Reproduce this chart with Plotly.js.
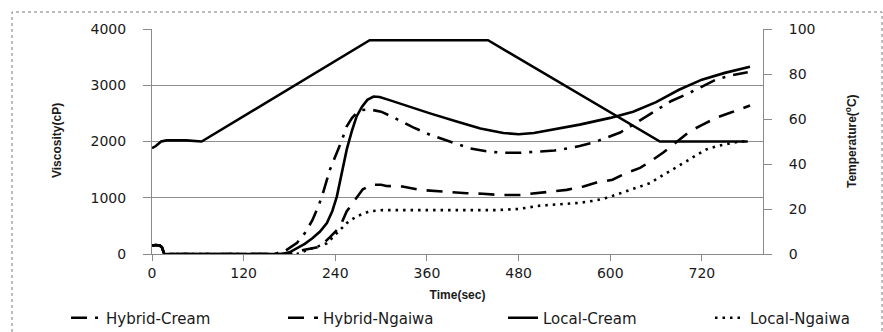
<!DOCTYPE html>
<html>
<head>
<meta charset="utf-8">
<script src="https://cdn.plot.ly/plotly-3.0.1.min.js"></script>
<style>html,body{margin:0;padding:0;background:#fff;}#chart{width:883px;height:332px;}</style>
</head>
<body>
<div id="chart"></div>
<script>
// ---- data ----
const seriesNames = ["Hybrid-Cream", "Hybrid-Ngaiwa", "Local-Cream", "Local-Ngaiwa"];

const hybridCreamTime = [0, 5, 10, 13, 16, 60, 120, 160, 175, 190, 200, 210, 216, 222, 233, 242, 248, 255, 262, 268, 275, 285, 300, 316, 342, 364, 390, 416, 440, 460, 482, 505, 527, 545, 560, 580, 596, 613, 630, 648, 665, 680, 700, 720, 740, 760, 780];
const hybridCreamVisc = [150, 160, 150, 120, 0, 0, 0, 0, 60, 200, 370, 600, 790, 1000, 1500, 1800, 2000, 2270, 2420, 2510, 2560, 2570, 2530, 2430, 2250, 2120, 2000, 1880, 1820, 1800, 1800, 1820, 1840, 1880, 1920, 1990, 2070, 2160, 2300, 2450, 2600, 2720, 2840, 2980, 3110, 3180, 3230];

const hybridNgaiwaTime = [0, 5, 10, 13, 16, 60, 120, 180, 198, 210, 220, 233, 246, 255, 264, 268, 276, 288, 300, 307, 328, 351, 379, 412, 433, 455, 482, 510, 543, 565, 582, 603, 621, 639, 652, 669, 685, 704, 721, 740, 757, 783];
const hybridNgaiwaVisc = [150, 160, 150, 120, 0, 0, 0, 0, 70, 100, 130, 300, 480, 760, 930, 1000, 1150, 1230, 1230, 1210, 1200, 1140, 1110, 1080, 1070, 1050, 1050, 1090, 1140, 1200, 1270, 1320, 1440, 1530, 1640, 1800, 1980, 2180, 2300, 2430, 2510, 2640];

const localCreamTime = [0, 5, 10, 13, 16, 60, 120, 170, 180, 190, 200, 210, 220, 229, 236, 242, 248, 255, 262, 268, 275, 282, 290, 298, 310, 330, 364, 400, 430, 460, 480, 500, 520, 560, 600, 630, 660, 690, 720, 750, 783];
const localCreamVisc = [150, 160, 150, 120, 0, 0, 0, 0, 30, 100, 180, 280, 400, 550, 760, 1020, 1400, 1860, 2200, 2450, 2620, 2740, 2800, 2790, 2740, 2650, 2500, 2350, 2230, 2150, 2130, 2150, 2200, 2300, 2420, 2530, 2700, 2920, 3100, 3220, 3330];

const localNgaiwaTime = [0, 5, 10, 13, 16, 60, 120, 190, 203, 215, 229, 242, 255, 268, 285, 302, 330, 364, 400, 451, 480, 508, 540, 560, 580, 596, 611, 626, 640, 652, 665, 678, 690, 700, 713, 726, 740, 755, 770, 780];
const localNgaiwaVisc = [150, 160, 150, 120, 0, 0, 0, 0, 70, 120, 190, 370, 550, 670, 760, 780, 780, 770, 770, 780, 800, 860, 890, 910, 950, 1000, 1070, 1140, 1200, 1260, 1370, 1470, 1570, 1650, 1760, 1860, 1920, 1960, 2000, 2000];

const temperatureTime = [0, 5, 12, 19, 45, 65, 285, 440, 665, 780];
const temperatureC = [47, 48, 50, 50.5, 50.5, 50, 95, 95, 50, 50];

const xTickVals = [0, 120, 240, 360, 480, 600, 720];
const yLeftTickVals = [0, 1000, 2000, 3000, 4000];
const yRightTickVals = [0, 20, 40, 60, 80, 100];

const xTitle = "Time(sec)";
const yLeftTitle = "Viscosity(cP)";
const yRightTitle = "Temperature(<sup>o</sup>C)";

// ---- chart ----
const W = 883, H = 332;
const ink = "#1a1a1a";
const tickFont = {family: "DejaVu Sans", size: 14, color: ink};
const titleFont = {family: "Liberation Sans", size: 12, color: ink, weight: "bold"};
const legendFont = {family: "DejaVu Sans", size: 15, color: ink};
const legendLeftPx = [66, 283, 503, 710];
const legendIds = ["legend", "legend2", "legend3", "legend4"];

const traces = [
  {x: hybridCreamTime, y: hybridCreamVisc, name: seriesNames[0], mode: "lines", legend: legendIds[0],
   line: {color: "#000", width: 2.6, dash: "16px,8px,3px,8px"}},
  {x: hybridNgaiwaTime, y: hybridNgaiwaVisc, name: seriesNames[1], mode: "lines", legend: legendIds[1],
   line: {color: "#000", width: 2.6, dash: "16px,10px"}},
  {x: localCreamTime, y: localCreamVisc, name: seriesNames[2], mode: "lines", legend: legendIds[2],
   line: {color: "#000", width: 2.6}},
  {x: localNgaiwaTime, y: localNgaiwaVisc, name: seriesNames[3], mode: "lines", legend: legendIds[3],
   line: {color: "#000", width: 2.6, dash: "2.5px,5px"}},
  {x: temperatureTime, y: temperatureC, name: "Temperature", mode: "lines", yaxis: "y2",
   showlegend: false, line: {color: "#000", width: 2.6}}
];

const layout = {
  width: W, height: H,
  margin: {l: 152, r: 120, t: 29, b: 78, pad: 0},
  paper_bgcolor: "#fff", plot_bgcolor: "#fff",
  showlegend: true,
  xaxis: {
    range: [0, 800], tickvals: xTickVals, ticktext: xTickVals.map(String),
    showgrid: false, zeroline: false,
    showline: true, linecolor: "#8a8a8a", linewidth: 1,
    ticks: "outside", ticklen: 6, tickcolor: "#8a8a8a",
    tickfont: tickFont, ticklabelstandoff: 0,
    title: {text: xTitle, font: titleFont},
    automargin: false, fixedrange: true
  },
  yaxis: {
    range: [0, 4000], tickvals: yLeftTickVals, ticktext: yLeftTickVals.map(String),
    showgrid: true, gridcolor: "#8f8f8f", gridwidth: 1,
    zeroline: false, showline: true, linecolor: "#8a8a8a", linewidth: 1,
    ticks: "outside", ticklen: 8, tickcolor: "#8a8a8a",
    tickfont: tickFont, ticklabelstandoff: 14,
    automargin: false, fixedrange: true
  },
  yaxis2: {
    range: [0, 100], tickvals: yRightTickVals, ticktext: yRightTickVals.map(String),
    overlaying: "y", side: "right", showgrid: false, zeroline: false,
    showline: true, linecolor: "#8a8a8a", linewidth: 1,
    ticks: "outside", ticklen: 8, tickcolor: "#8a8a8a",
    tickfont: tickFont, ticklabelstandoff: 14,
    automargin: false, fixedrange: true
  },
  annotations: [
    {text: yLeftTitle, xref: "paper", yref: "paper", x: (57 - 152) / 611, y: (254 - 141) / 225,
     xanchor: "center", yanchor: "middle", textangle: -90, showarrow: false, font: titleFont},
    {text: yRightTitle, xref: "paper", yref: "paper", x: (851 - 152) / 611, y: (254 - 141) / 225,
     xanchor: "center", yanchor: "middle", textangle: -90, showarrow: false, font: titleFont}
  ],
  shapes: [
    {type: "path", xref: "paper", yref: "paper",
     path: "M -0.2291,-0.40 L -0.2291,1.0756 L 1.1948,1.0756 L 1.1948,-0.40",
     line: {color: "#7a7a7a", width: 1, dash: "dot"}}
  ]
};

legendIds.forEach(function (id, i) {
  layout[id] = {
    orientation: "h", xref: "container", yref: "container",
    x: legendLeftPx[i] / W, xanchor: "left",
    y: 1 - 318 / H, yanchor: "middle",
    font: legendFont, bgcolor: "rgba(0,0,0,0)", borderwidth: 0
  };
});

Plotly.newPlot("chart", traces, layout, {staticPlot: true, displayModeBar: false});
</script>
</body>
</html>
